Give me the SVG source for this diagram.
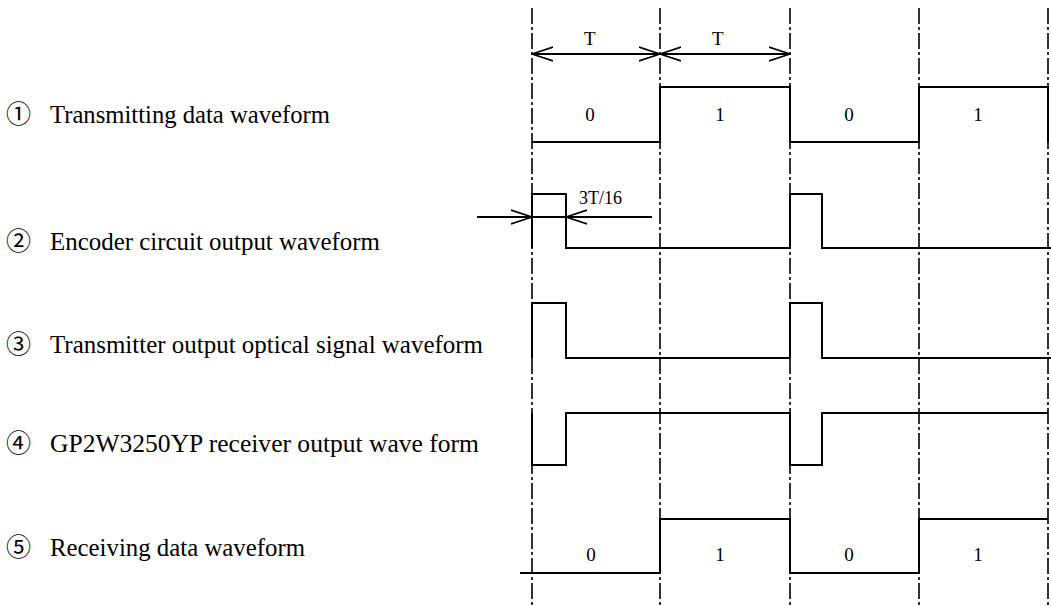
<svg xmlns="http://www.w3.org/2000/svg" width="1051" height="606" viewBox="0 0 1051 606">
<style>
.bg{fill:#ffffff}
.grid{stroke:#000;stroke-width:1.6;stroke-dasharray:16 3 3 3;fill:none}
.wave{stroke:#000;stroke-width:2;fill:none;stroke-linejoin:miter}
.dim{stroke:#000;stroke-width:1.8;fill:none}
.lbl{font-family:"Liberation Serif","Noto Sans CJK JP",serif;font-size:25px;fill:#000}
.num{font-family:"Noto Sans CJK JP","Liberation Serif",serif;font-size:25px;fill:#000}
.bit{font-family:"Liberation Serif",serif;font-size:19px;fill:#000;text-anchor:middle}
.dl{font-family:"Liberation Serif",serif;font-size:19px;fill:#000}
</style>
<defs>
<marker id="ah" viewBox="0 0 22 16" refX="21" refY="8" markerWidth="22" markerHeight="16" markerUnits="userSpaceOnUse" orient="auto">
<path d="M0,1 L21,8 L0,15" fill="none" stroke="#000" stroke-width="1.8"/>
</marker>
</defs>
<rect class="bg" x="0" y="0" width="1051" height="606"/>

<g id="gridlines">
<line class="grid" x1="532" y1="8" x2="532" y2="606"/>
<line class="grid" x1="660" y1="8" x2="660" y2="606"/>
<line class="grid" x1="790" y1="8" x2="790" y2="606"/>
<line class="grid" x1="919" y1="8" x2="919" y2="606"/>
<line class="grid" x1="1048" y1="8" x2="1048" y2="606"/>
</g>

<g id="period-dimension">
<line class="dim" x1="596" y1="54" x2="532" y2="54" marker-end="url(#ah)"/>
<line class="dim" x1="596" y1="54" x2="660" y2="54" marker-end="url(#ah)"/>
<line class="dim" x1="725" y1="54" x2="660" y2="54" marker-end="url(#ah)"/>
<line class="dim" x1="725" y1="54" x2="790" y2="54" marker-end="url(#ah)"/>
<text class="dl" x="584" y="45">T</text>
<text class="dl" x="712" y="45">T</text>
</g>

<g id="row1-transmitting">
<text class="num" x="6" y="123">①</text>
<text class="lbl" x="50" y="123" textLength="280" lengthAdjust="spacingAndGlyphs">Transmitting data waveform</text>
<path class="wave" d="M532,142 L660,142 L660,87 L790,87 L790,142 L919,142 L919,87 L1048,87 L1048,142"/>
<text class="bit" x="590" y="121">0</text>
<text class="bit" x="720" y="121">1</text>
<text class="bit" x="849" y="121">0</text>
<text class="bit" x="978" y="121">1</text>
</g>

<g id="row2-encoder">
<text class="num" x="6" y="250">②</text>
<text class="lbl" x="50" y="250" textLength="330" lengthAdjust="spacingAndGlyphs">Encoder circuit output waveform</text>
<path class="wave" d="M532,248 L532,194 L566,194 L566,248 L790,248 L790,194 L822,194 L822,248 L1051,248"/>
</g>

<g id="pulse-width-dimension">
<line class="dim" x1="477" y1="217" x2="532" y2="217" marker-end="url(#ah)"/>
<line class="dim" x1="652" y1="217" x2="566" y2="217" marker-end="url(#ah)"/>
<line class="dim" x1="532" y1="217" x2="566" y2="217"/>
<text class="dl" x="579" y="204" textLength="43" lengthAdjust="spacingAndGlyphs">3T/16</text>
</g>

<g id="row3-transmitter">
<text class="num" x="6" y="353">③</text>
<text class="lbl" x="50" y="353" textLength="433" lengthAdjust="spacingAndGlyphs">Transmitter output optical signal waveform</text>
<path class="wave" d="M532,358 L532,303 L566,303 L566,358 L790,358 L790,303 L822,303 L822,358 L1051,358"/>
</g>

<g id="row4-receiver">
<text class="num" x="6" y="452">④</text>
<text class="lbl" x="50" y="452" textLength="429" lengthAdjust="spacingAndGlyphs">GP2W3250YP receiver output wave form</text>
<path class="wave" d="M532,413 L532,465 L566,465 L566,413 L790,413 L790,465 L822,465 L822,413 L1048,413"/>
</g>

<g id="row5-receiving">
<text class="num" x="6" y="556">⑤</text>
<text class="lbl" x="50" y="556" textLength="255" lengthAdjust="spacingAndGlyphs">Receiving data waveform</text>
<path class="wave" d="M520,573 L660,573 L660,519 L790,519 L790,573 L919,573 L919,519 L1048,519"/>
<text class="bit" x="591" y="561">0</text>
<text class="bit" x="720" y="561">1</text>
<text class="bit" x="849" y="561">0</text>
<text class="bit" x="978" y="561">1</text>
</g>
</svg>
